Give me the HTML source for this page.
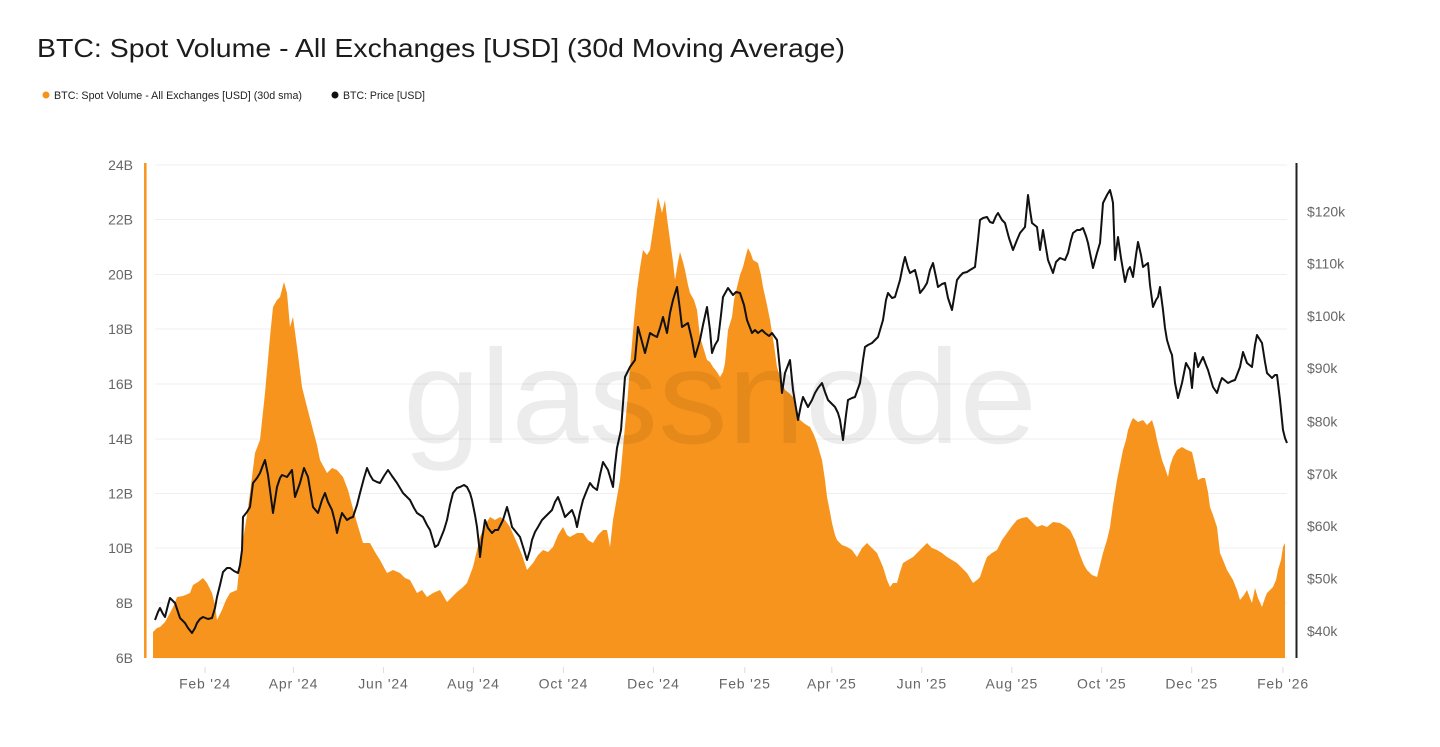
<!DOCTYPE html>
<html><head><meta charset="utf-8"><style>
html,body{margin:0;padding:0;background:#fff;}
svg{display:block;}
text{font-family:"Liberation Sans",Arial,sans-serif;}
</style></head><body>
<svg width="1440" height="747" viewBox="0 0 1440 747" xmlns="http://www.w3.org/2000/svg">
<rect width="1440" height="747" fill="#fff"/>
<text x="37" y="57" font-size="26" fill="#1c1c1c" textLength="808" lengthAdjust="spacingAndGlyphs">BTC: Spot Volume - All Exchanges [USD] (30d Moving Average)</text>
<circle cx="46" cy="95" r="3.5" fill="#f7931a"/>
<text x="54" y="99" font-size="11" fill="#222" textLength="248" lengthAdjust="spacingAndGlyphs">BTC: Spot Volume - All Exchanges [USD] (30d sma)</text>
<circle cx="335" cy="95" r="3.5" fill="#111"/>
<text x="343" y="99" font-size="11" fill="#222" textLength="82" lengthAdjust="spacingAndGlyphs">BTC: Price [USD]</text>

<g stroke="#efefef" stroke-width="1">
<line x1="155" x2="1287" y1="165" y2="165"/>
<line x1="155" x2="1287" y1="219.5" y2="219.5"/>
<line x1="155" x2="1287" y1="274.5" y2="274.5"/>
<line x1="155" x2="1287" y1="329" y2="329"/>
<line x1="155" x2="1287" y1="384" y2="384"/>
<line x1="155" x2="1287" y1="439" y2="439"/>
<line x1="155" x2="1287" y1="493.5" y2="493.5"/>
<line x1="155" x2="1287" y1="548" y2="548"/>
<line x1="155" x2="1287" y1="603" y2="603"/>
<line x1="155" x2="1287" y1="658" y2="658"/>
</g>
<g stroke="#dcdcdc" stroke-width="1">
<line x1="205" x2="205" y1="667" y2="673"/>
<line x1="293.5" x2="293.5" y1="667" y2="673"/>
<line x1="383.4" x2="383.4" y1="667" y2="673"/>
<line x1="473.4" x2="473.4" y1="667" y2="673"/>
<line x1="563.4" x2="563.4" y1="667" y2="673"/>
<line x1="653.4" x2="653.4" y1="667" y2="673"/>
<line x1="744.8" x2="744.8" y1="667" y2="673"/>
<line x1="831.8" x2="831.8" y1="667" y2="673"/>
<line x1="921.8" x2="921.8" y1="667" y2="673"/>
<line x1="1011.8" x2="1011.8" y1="667" y2="673"/>
<line x1="1101.7" x2="1101.7" y1="667" y2="673"/>
<line x1="1191.7" x2="1191.7" y1="667" y2="673"/>
<line x1="1283" x2="1283" y1="667" y2="673"/>
</g>

<path fill="#f7941d" d="M153,658 L153,632 157,628 160,627 165,622 170,613 174,605 177,597 183,596 190,593 193,585 198,582 203,578 207,583 212,593 215,605 217,620 222,610 226,600 230,593 237,590 240,560 243,540 247,515 250,493 255,453 260,440 265,393 270,337 273,307 277,300 280,297 284,282 287,293 290,327 293,317 297,347 302,387 307,407 313,430 317,445 320,460 327,473 332,468 337,470 343,477 348,490 352,505 357,523 363,543 370,543 375,552 380,560 387,573 393,570 400,573 405,578 410,580 417,593 422,590 427,597 433,593 440,590 447,602 452,597 457,592 462,588 467,583 473,567 477,550 480,537 485,525 490,517 495,520 500,517 505,520 510,527 517,543 522,555 527,570 533,563 538,555 543,550 548,552 553,547 558,535 563,527 567,535 570,537 577,533 583,533 588,540 593,543 598,535 603,530 607,530 610,547 613,520 617,497 620,480 623,447 627,405 630,367 634,320 637,290 640,268 643,250 647,255 650,250 653,230 656,210 658,197 660,205 662,213 665,200 667,218 670,240 673,262 675,280 678,262 680,252 683,262 685,270 688,285 690,293 694,300 697,310 700,337 704,350 707,360 710,362 713,367 717,372 720,377 723,372 725,363 728,330 732,317 734,300 737,287 740,275 743,267 746,255 748,248 751,254 753,260 758,263 761,275 763,287 767,305 770,320 774,345 777,367 781,380 785,390 789,393 793,397 797,410 800,420 805,424 810,427 814,435 817,443 822,460 825,480 827,497 830,512 832,523 835,535 837,540 842,545 847,547 852,550 857,557 862,548 867,543 872,548 877,553 880,560 883,567 887,580 890,587 893,583 897,583 900,572 903,563 908,560 913,557 920,550 927,543 932,548 937,550 942,553 947,557 952,560 957,563 962,568 967,573 970,578 973,583 977,580 980,577 984,565 987,557 992,553 997,550 1002,540 1007,533 1012,526 1017,520 1022,518 1027,517 1032,522 1037,527 1042,525 1047,527 1053,522 1060,523 1065,526 1070,530 1075,540 1080,555 1084,565 1087,570 1092,575 1097,577 1100,565 1103,553 1107,540 1110,527 1113,505 1117,480 1120,465 1123,450 1126,440 1128,430 1131,422 1133,418 1138,422 1143,420 1147,425 1152,420 1155,430 1157,440 1160,452 1162,460 1165,468 1168,477 1170,466 1173,457 1177,450 1182,447 1187,450 1192,452 1195,465 1198,480 1202,478 1205,478 1208,492 1210,507 1213,515 1217,527 1220,553 1223,560 1227,570 1230,575 1233,580 1237,590 1240,600 1244,595 1247,590 1250,598 1252,603 1255,588 1258,598 1262,607 1265,598 1267,593 1270,590 1273,587 1276,580 1278,570 1281,560 1283,547 1285,543 L1285,658 Z"/>

<text x="403" y="443" font-size="134" fill="#000" fill-opacity="0.075" textLength="634" lengthAdjust="spacingAndGlyphs">glassnode</text>

<path fill="none" stroke="#111" stroke-width="2" stroke-linejoin="round" d="M155,620 L158,612 160,608 163,614 165,617 168,605 170,598 173,601 175,603 178,612 180,618 185,623 188,628 192,633 195,628 197,623 200,619 203,617 208,619 212,618 215,608 217,597 220,585 223,572 227,568 230,568 234,571 238,573 240,565 242,550 243,517 247,512 250,507 253,483 257,478 260,473 263,465 265,460 268,475 270,490 273,513 275,500 277,487 280,478 282,475 287,477 292,470 295,497 300,483 304,468 308,477 311,495 313,507 318,513 322,500 325,493 328,502 332,510 335,522 337,533 340,520 342,513 347,520 350,518 353,517 357,505 360,493 364,478 367,468 370,475 373,480 377,482 380,483 384,476 388,470 392,476 397,483 400,488 403,493 407,497 410,500 414,508 417,513 423,517 427,525 430,530 433,540 435,547 438,545 440,540 444,530 447,520 450,505 453,493 457,488 460,487 464,485 467,487 470,493 472,500 475,515 477,527 479,545 480,557 482,540 485,520 488,528 492,533 495,530 498,530 503,520 507,507 510,518 512,527 516,532 520,537 524,550 527,560 530,550 532,540 535,532 538,527 542,520 545,517 548,514 552,510 555,502 558,497 561,505 565,517 568,514 572,510 575,518 577,527 580,512 583,500 587,490 590,483 593,487 597,490 600,475 603,462 608,470 613,487 615,465 617,448 621,430 625,377 630,367 635,360 638,327 641,338 645,353 650,333 653,335 657,337 660,328 663,317 667,333 670,313 673,300 677,287 680,310 682,327 685,325 688,323 692,340 695,357 700,340 703,325 707,307 710,330 712,353 715,345 718,340 721,315 723,297 728,288 733,295 736,292 740,293 744,305 747,320 752,333 755,330 758,333 762,330 765,333 769,336 772,333 777,340 780,370 782,393 785,373 790,360 793,390 796,408 798,420 801,405 803,397 808,407 812,400 815,393 818,388 822,383 825,392 828,400 832,404 835,407 838,413 840,420 843,440 846,415 848,400 852,398 855,397 860,383 863,360 865,347 868,345 872,343 875,340 878,337 883,320 886,300 888,293 892,298 895,297 900,280 903,265 905,257 908,268 910,273 915,270 918,282 920,293 924,288 927,283 930,270 933,263 936,277 938,287 942,284 945,283 948,298 952,310 955,292 957,280 960,276 963,273 967,272 970,270 975,267 978,240 980,220 983,218 987,217 990,222 993,223 996,216 998,213 1002,220 1005,223 1009,238 1013,250 1017,240 1020,233 1025,227 1028,195 1030,210 1032,223 1037,227 1040,250 1043,230 1046,248 1048,260 1053,273 1056,262 1060,258 1065,260 1068,253 1071,240 1073,233 1077,230 1080,230 1083,228 1086,236 1088,243 1091,258 1093,268 1097,253 1100,243 1103,203 1107,195 1110,190 1112,198 1113,203 1115,260 1118,237 1121,258 1125,282 1128,270 1130,267 1133,277 1136,255 1138,242 1141,255 1143,267 1148,263 1150,285 1153,307 1156,300 1158,297 1160,287 1163,310 1165,328 1167,340 1170,350 1172,355 1175,383 1178,398 1182,383 1186,363 1190,370 1192,388 1195,353 1198,367 1203,357 1206,365 1208,370 1213,387 1217,393 1220,383 1222,378 1228,383 1232,381 1235,380 1240,367 1243,352 1247,363 1252,367 1255,345 1257,335 1262,343 1265,362 1267,373 1272,378 1275,375 1277,375 1280,400 1283,430 1285,438 1287,443"/>

<line x1="145.3" x2="145.3" y1="163" y2="658" stroke="#f7941d" stroke-width="2.5"/>
<line x1="1296.5" x2="1296.5" y1="163" y2="658" stroke="#222" stroke-width="2"/>

<g font-size="14" fill="#666" text-anchor="end">
<text x="133" y="170">24B</text>
<text x="133" y="224.5">22B</text>
<text x="133" y="279.5">20B</text>
<text x="133" y="334">18B</text>
<text x="133" y="389">16B</text>
<text x="133" y="444">14B</text>
<text x="133" y="498.5">12B</text>
<text x="133" y="553">10B</text>
<text x="133" y="608">8B</text>
<text x="133" y="663">6B</text>
</g>
<g font-size="14" fill="#666">
<text x="1307" y="216.5">$120k</text>
<text x="1307" y="268.5">$110k</text>
<text x="1307" y="321">$100k</text>
<text x="1307" y="373">$90k</text>
<text x="1307" y="426.5">$80k</text>
<text x="1307" y="479">$70k</text>
<text x="1307" y="531">$60k</text>
<text x="1307" y="583.5">$50k</text>
<text x="1307" y="636">$40k</text>
</g>
<g font-size="14" fill="#666" text-anchor="middle" letter-spacing="0.8">
<text x="205" y="688.5">Feb '24</text>
<text x="293.5" y="688.5">Apr '24</text>
<text x="383.4" y="688.5">Jun '24</text>
<text x="473.4" y="688.5">Aug '24</text>
<text x="563.4" y="688.5">Oct '24</text>
<text x="653.4" y="688.5">Dec '24</text>
<text x="744.8" y="688.5">Feb '25</text>
<text x="831.8" y="688.5">Apr '25</text>
<text x="921.8" y="688.5">Jun '25</text>
<text x="1011.8" y="688.5">Aug '25</text>
<text x="1101.7" y="688.5">Oct '25</text>
<text x="1191.7" y="688.5">Dec '25</text>
<text x="1283" y="688.5">Feb '26</text>
</g>
</svg>
</body></html>
